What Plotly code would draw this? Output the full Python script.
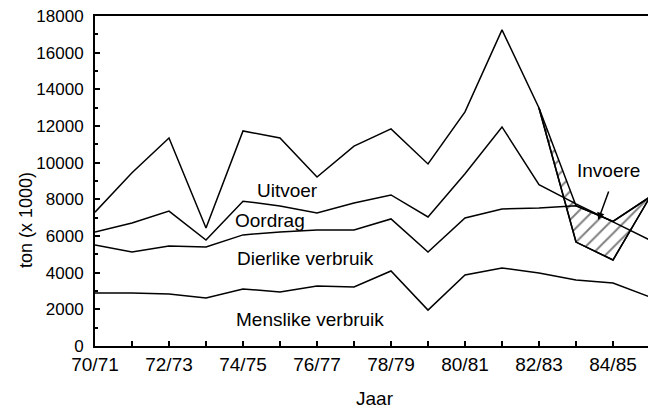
import plotly.graph_objects as go

jare = ['70/71', '71/72', '72/73', '73/74', '74/75', '75/76', '76/77', '77/78',
        '78/79', '79/80', '80/81', '81/82', '82/83', '83/84', '84/85', '85/86']

# boonste lyn (uitvoer)
totaal = [7300, 9450, 11350, 6440, 11730, 11350, 9220, 10900,
          11840, 9930, 12770, 17240, 12980, 5670, 4690, 8130]
# bokant van oordrag
lyn_oordrag = [6220, 6710, 7360, 5780, 7900, 7640, 7260, 7800,
               8240, 7040, 9400, 11950, 8800, 7750, 6770, 5780]
# bokant van dierlike verbruik
lyn_dierlik = [5510, 5130, 5460, 5400, 6060, 6220, 6330, 6330,
               6930, 5130, 6980, 7470, 7530, 7650, 6800, 8130]
# bokant van menslike verbruik
lyn_menslik = [2890, 2890, 2840, 2620, 3110, 2950, 3270, 3220,
               4090, 1960, 3870, 4260, 3980, 3600, 3440, 2670]
# invoere: boonste grens van gearseerde gebied (82/83 - 85/86)
invoer_jare = jare[12:]
invoer_bo = [12980, 7650, 6800, 8130]

FONT = 'Liberation Sans'
lyn = dict(color='black', width=1.5)

fig = go.Figure()

# gearseerde gebied (invoere)
fig.add_trace(go.Scatter(x=invoer_jare, y=totaal[12:], mode='lines',
                         line=lyn, showlegend=False))
fig.add_trace(go.Scatter(x=invoer_jare, y=invoer_bo, mode='lines',
                         line=lyn, fill='tonexty', fillcolor='rgba(0,0,0,0)',
                         fillpattern=dict(shape='/', fgcolor='black', bgcolor='white',
                                          size=10, solidity=0.2),
                         showlegend=False))

for reeks in [totaal, lyn_oordrag, lyn_dierlik, lyn_menslik]:
    fig.add_trace(go.Scatter(x=jare, y=reeks, mode='lines', line=lyn,
                             showlegend=False))

etikette = [
    ('Uitvoer', 5.2, 8500),
    ('Oordrag', 4.74, 6870),
    ('Dierlike verbruik', 5.7, 4800),
    ('Menslike verbruik', 5.8, 1420),
    ('Invoere', 13.87, 9600),
]
for teks, x, y in etikette:
    fig.add_annotation(x=x, y=y, text=teks, showarrow=False,
                       font=dict(family=FONT, size=19, color='black'))

# pyltjie na invoere
fig.add_annotation(x=13.6, y=6870, text='', showarrow=True, ax=11, ay=-30,
                   arrowhead=2, arrowsize=1, arrowwidth=1.5, arrowcolor='black')

# as-titels
fig.add_annotation(x=-0.124, y=0.382, xref='paper', yref='paper', text='ton (x 1000)',
                   showarrow=False, textangle=-90, xanchor='center', yanchor='middle',
                   font=dict(family=FONT, size=18, color='black'))
fig.add_annotation(x=0.5045, y=-0.158, xref='paper', yref='paper', text='Jaar',
                   showarrow=False, xanchor='center', yanchor='middle',
                   font=dict(family=FONT, size=19, color='black'))

# die bladsy het 8px kantlyn, dus is die figuur 8px kleiner
fig.update_layout(
    width=648, height=400,
    margin=dict(l=87, r=6, t=8, b=62),
    plot_bgcolor='white', paper_bgcolor='white',
    font=dict(family=FONT, color='black'),
)
fig.update_xaxes(
    type='category', categoryorder='array', categoryarray=jare, range=[0, 15],
    tickvals=jare, ticktext=[j if i % 2 == 0 else '' for i, j in enumerate(jare)],
    ticks='inside', ticklen=5, tickwidth=1.5, tickcolor='black',
    tickfont=dict(size=19), ticklabelstandoff=0, automargin=False,
    showline=True, linecolor='black', linewidth=2, mirror=True,
    showgrid=False, zeroline=False,
)
fig.update_yaxes(
    range=[0, 18000], dtick=2000, tickformat='d',
    ticks='inside', ticklen=5, tickwidth=1.5, tickcolor='black',
    minor=dict(dtick=1000, ticks='inside', ticklen=3, tickcolor='black'),
    tickfont=dict(size=17), ticklabelstandoff=6, automargin=False,
    ticklabeloverflow='allow',
    showline=True, linecolor='black', linewidth=2, mirror=True,
    showgrid=False, zeroline=False,
)

fig.write_html('out.html')
